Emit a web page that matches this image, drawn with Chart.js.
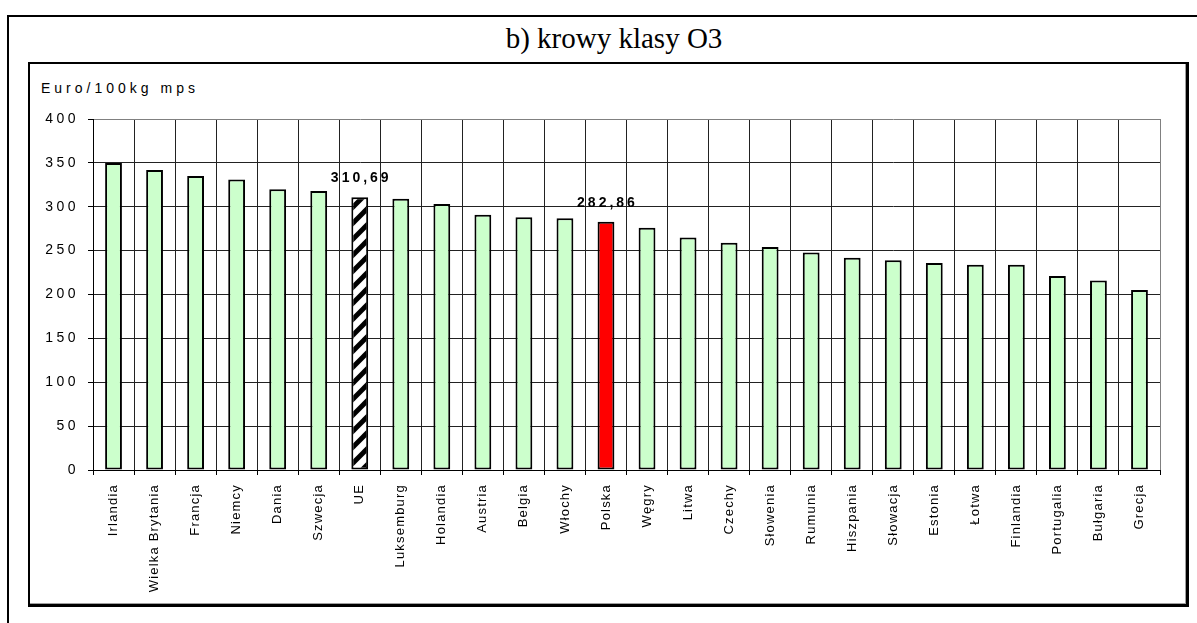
<!DOCTYPE html>
<html>
<head>
<meta charset="utf-8">
<script src="https://cdn.jsdelivr.net/npm/chart.js@4/dist/chart.umd.min.js"></script>
<style>
html,body{margin:0;padding:0;background:#fff;width:1197px;height:623px;overflow:hidden;position:relative}
#outer{position:absolute;left:7px;top:15px;width:1300px;height:700px;border-left:2px solid #000;border-top:2px solid #000;box-sizing:border-box}
#inner{position:absolute;left:28px;top:62px;width:1161px;height:545px;border:2px solid #000;border-right-width:3px;border-bottom-width:3px;box-sizing:border-box}
#innershadow{position:absolute;left:0;top:0;right:0;bottom:0;border-right:1px solid #a0a0a0;border-bottom:1px solid #a0a0a0}
#title{position:absolute;left:364px;width:500px;top:24px;text-align:center;font-family:"Liberation Serif","Times New Roman",serif;font-size:29px;line-height:29px;color:#000;white-space:nowrap}
#unit{position:absolute;left:41px;top:81px;font-family:"Liberation Sans",Arial,sans-serif;font-size:14px;line-height:14px;letter-spacing:4px;color:#000;white-space:nowrap}
canvas{position:absolute;left:0;top:0}
</style>
</head>
<body>
<div id="outer"></div>
<div id="inner"><div id="innershadow"></div></div>
<div id="title">b) krowy klasy O3</div>
<div id="unit">Euro/100kg mps</div>
<canvas id="c" width="1197" height="623"></canvas>
<script>
const categories = ['Irlandia','Wielka Brytania','Francja','Niemcy','Dania','Szwecja','UE','Luksemburg','Holandia','Austria','Belgia','Włochy','Polska','Węgry','Litwa','Czechy','Słowenia','Rumunia','Hiszpania','Słowacja','Estonia','Łotwa','Finlandia','Portugalia','Bułgaria','Grecja'];
const values = [350,342,335,331,320,318,310.69,309,303,291,288,287,282.86,276,265,259,254,248,242,239,236,234,234,221,216,205];
const yTicks = [0,50,100,150,200,250,300,350,400];
const averageCategory = 'UE';
const highlightCategory = 'Polska';
const labeledCategories = ['UE','Polska'];

function stripePattern(){
  const w=16,h=16,c=document.createElement('canvas');
  c.width=w;c.height=h;
  const g=c.getContext('2d');
  g.fillStyle='#fff';g.fillRect(0,0,w,h);
  g.strokeStyle='#000';g.lineWidth=5;
  for(const off of [-h,0,h]){g.beginPath();g.moveTo(-2,h+off+2);g.lineTo(w+2,off-2);g.stroke();}
  return g.createPattern(c,'repeat');
}
const pat = stripePattern();
const fills = categories.map(c => c===averageCategory ? pat : (c===highlightCategory ? '#FF0000' : '#CCFFCC'));

const spacingPlugin = {
  id:'spacing',
  beforeDraw(chart){
    const patch=(scale,sp)=>{
      if(scale._spPatched) return;
      const orig=scale.drawLabels;
      scale.drawLabels=function(area){const c=this.ctx;c.save();c.letterSpacing=sp;orig.call(this,area);c.restore();};
      scale._spPatched=true;
    };
    patch(chart.scales.x,'1.2px');
    patch(chart.scales.y,'3.5px');
  }
};
const valueLabelPlugin = {
  id:'valueLabels',
  afterDatasetsDraw(chart){
    const ctx=chart.ctx, meta=chart.getDatasetMeta(0);
    ctx.save();
    ctx.font='bold 14px "Liberation Sans", Arial, sans-serif';
    ctx.letterSpacing='3px';
    ctx.textAlign='center';ctx.textBaseline='alphabetic';ctx.fillStyle='#000';
    labeledCategories.forEach(cat=>{
      const i=categories.indexOf(cat), el=meta.data[i];
      const txt=values[i].toFixed(2).replace('.',',');
      ctx.fillText(txt, el.x+1.5, el.y-15);
    });
    ctx.restore();
  }
};

new Chart(document.getElementById('c'), {
  type:'bar',
  data:{labels:categories,datasets:[{data:values,backgroundColor:fills,borderColor:'#000',borderWidth:2,borderSkipped:false,barPercentage:0.41,categoryPercentage:1}]},
  options:{
    responsive:false,animation:false,devicePixelRatio:1,
    layout:{padding:{left:0,top:119,right:37,bottom:0}},
    plugins:{legend:{display:false},tooltip:{enabled:false},title:{display:false}},
    scales:{
      x:{
        grid:{offset:true,color:c=>c.tick?'#222':'#808080',lineWidth:1,drawTicks:true,tickLength:5,tickColor:'#000'},
        border:{display:true,color:'#000',width:1},
        ticks:{autoSkip:false,maxRotation:90,minRotation:90,padding:9,color:'#000',font:{family:'"Liberation Sans", Arial, sans-serif',size:13}},
        afterFit(s){s.height=153;}
      },
      y:{
        min:0,max:400,
        afterBuildTicks(s){s.ticks=yTicks.map(v=>({value:v}));},
        grid:{color:c=>(c.tick&&c.tick.value===400)?'#808080':'#222',lineWidth:1,drawTicks:true,tickLength:5,tickColor:'#000'},
        border:{display:true,color:'#000',width:1},
        ticks:{padding:9,color:'#000',font:{family:'"Liberation Sans", Arial, sans-serif',size:14}},
        afterFit(s){s.width=93;}
      }
    }
  },
  plugins:[spacingPlugin,valueLabelPlugin]
});
</script>
</body>
</html>
